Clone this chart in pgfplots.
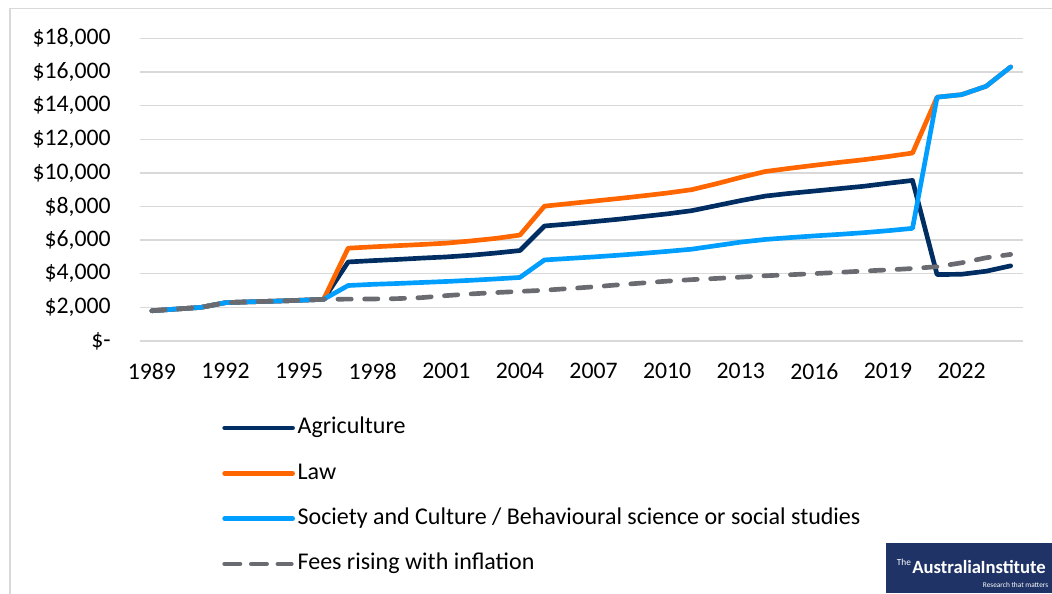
\documentclass[border=0pt]{standalone}
\usepackage{pgfplots}
\pgfplotsset{compat=1.18}
\usepackage{fontspec}
\setmainfont{Carlito}

\definecolor{agri}{RGB}{0,45,98}
\definecolor{law}{RGB}{255,102,0}
\definecolor{soc}{RGB}{0,158,255}
\definecolor{infl}{RGB}{105,107,112}
\definecolor{gridc}{RGB}{217,217,217}
\definecolor{framec}{RGB}{217,217,217}
\definecolor{tai}{RGB}{31,51,102}

\pgfplotstableread{
year fee
1989 1800
1990 1900
1991 2000
1992 2280
1993 2330
1994 2370
1995 2420
1996 2480
1997 4700
1998 4780
1999 4850
2000 4930
2001 5000
2002 5100
2003 5230
2004 5380
2005 6840
2006 6960
2007 7100
2008 7240
2009 7400
2010 7560
2011 7750
2012 8050
2013 8350
2014 8620
2015 8780
2016 8920
2017 9060
2018 9200
2019 9380
2020 9550
2021 3950
2022 3970
2023 4150
2024 4470
}\agri

\pgfplotstableread{
year fee
1989 1800
1990 1900
1991 2000
1992 2280
1993 2330
1994 2370
1995 2420
1996 2480
1997 5520
1998 5600
1999 5670
2000 5740
2001 5820
2002 5950
2003 6100
2004 6300
2005 8020
2006 8170
2007 8320
2008 8470
2009 8630
2010 8800
2011 9000
2012 9350
2013 9730
2014 10080
2015 10270
2016 10450
2017 10620
2018 10780
2019 10970
2020 11180
2021 14500
2022 14650
2023 15150
2024 16300
}\law

\pgfplotstableread{
year fee
1989 1800
1990 1900
1991 2000
1992 2280
1993 2330
1994 2370
1995 2420
1996 2480
1997 3300
1998 3370
1999 3420
2000 3480
2001 3540
2002 3610
2003 3690
2004 3780
2005 4820
2006 4910
2007 5000
2008 5100
2009 5210
2010 5330
2011 5460
2012 5670
2013 5880
2014 6040
2015 6150
2016 6250
2017 6340
2018 6440
2019 6560
2020 6700
2021 14500
2022 14650
2023 15150
2024 16300
}\soc

\pgfplotstableread{
year fee
1989 1800
1990 1900
1991 2000
1992 2280
1993 2330
1994 2370
1995 2420
1996 2480
1997 2490
1998 2500
1999 2520
2000 2580
2001 2700
2002 2800
2003 2880
2004 2950
2005 3020
2006 3120
2007 3220
2008 3340
2009 3450
2010 3560
2011 3650
2012 3720
2013 3800
2014 3880
2015 3940
2016 4010
2017 4080
2018 4160
2019 4230
2020 4310
2021 4420
2022 4650
2023 4950
2024 5150
}\infl

\begin{document}
\begin{tikzpicture}[x=1pt,y=1pt]
\useasboundingbox (0,0) rectangle (789,444.75);
% chart frame
\draw[framec, line width=1.1pt] (7.5,-2) -- (7.5,438.4) -- (792,438.4);

\begin{axis}[
    at={(104.7pt,189pt)}, anchor=south west,
    scale only axis,
    width=662.5pt, height=227pt,
    xmin=1988.5, xmax=2024.5,
    ymin=0, ymax=18000,
    scaled y ticks=false,
    clip=false,
    axis line style={draw=none},
    tick style={draw=none},
    major tick length=0pt,
    ymajorgrids=true,
    grid style={gridc, line width=1pt},
    xtick={1989,1992,...,2022},
    xticklabels={1989,1992,1995,1998,2001,2004,2007,2010,2013,2016,2019,2022},
    ytick={0,2000,...,18000},
    yticklabels={\$-,\$2{,}000,\$4{,}000,\$6{,}000,\$8{,}000,\$10{,}000,\$12{,}000,\$14{,}000,\$16{,}000,\$18{,}000},
    ticklabel style={font=\fontsize{17.8}{20}\selectfont, inner sep=0pt},
    yticklabel style={anchor=east, xshift=-21.5pt},
    xticklabel style={anchor=north, yshift=-16.5pt},
    every axis plot/.append style={line width=3.5pt, line cap=round, line join=round},
    legend image code/.code={\path (0pt,0pt) -- (51pt,0pt);
        \draw[#1] (1.5pt,0pt) -- (49pt,0pt);},
    legend cell align=left,
    legend style={
        at={(0.0933,-0.249)}, anchor=north west,
        draw=none, fill=none, inner sep=0pt,
        font=\fontsize{18}{21}\selectfont,
        nodes={inner sep=0pt, text height=13pt, text depth=4pt},
        row sep=17pt,
        /tikz/every odd column/.append style={column sep=2pt},
    },
]
\addplot[agri] table[x=year, y=fee] {\agri};
\addplot[law] table[x=year, y=fee] {\law};
\addplot[soc] table[x=year, y=fee] {\soc};
\addplot[infl, dash pattern=on 10pt off 10pt] table[x=year, y=fee] {\infl};
\legend{Agriculture, Law, Society and Culture / Behavioural science or social studies, Fees rising with inflation}
\end{axis}

% logo
\fill[tai] (664.5,0) rectangle (795,37.5);
\node[anchor=base west, inner sep=0pt, text=white, font=\fontsize{7}{8}\selectfont] at (672.5,20.5) {The};
\node[anchor=base west, inner sep=0pt, text=white, font=\fontsize{14}{16}\selectfont\bfseries] at (684,15) {Australia\kern-0.5pt Institute};
\node[anchor=base west, inner sep=0pt, text=white, font=\fontsize{5.5}{6}\selectfont] at (737,4.5) {Research that matters};
\end{tikzpicture}
\end{document}
